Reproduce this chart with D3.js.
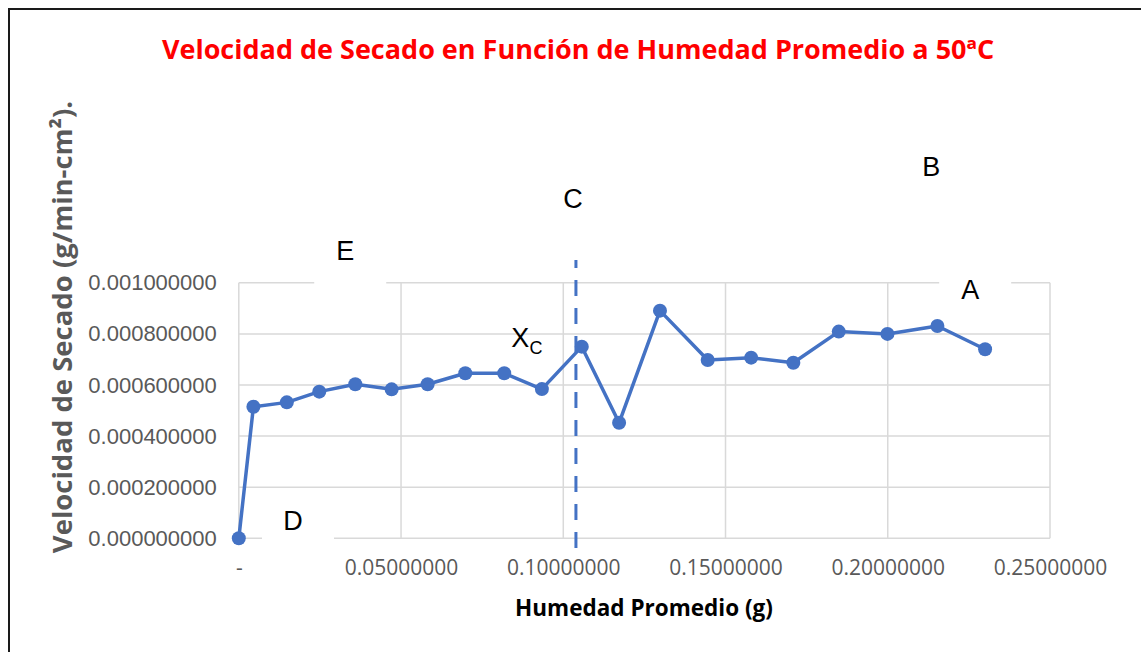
<!DOCTYPE html>
<html>
<head>
<meta charset="utf-8">
<script src="https://cdn.jsdelivr.net/npm/d3@7"></script>
<style>
  body { margin: 0; background: #fff; }
</style>
</head>
<body>
<div id="chart"></div>
<script>
// humedad promedio (g) vs velocidad de secado (g/min-cm2)
var humedad = [0, 0.0045, 0.0148, 0.0248, 0.0359, 0.0471, 0.0582, 0.0698, 0.0818, 0.0934,
               0.1057, 0.1172, 0.1298, 0.1445, 0.1579, 0.1709, 0.1849, 0.1999, 0.2153, 0.2300];
var velocidad = [0, 0.000515, 0.000532, 0.000574, 0.000603, 0.000583, 0.000603, 0.000646, 0.000646, 0.000584,
                 0.000750, 0.000452, 0.000891, 0.000698, 0.000707, 0.000687, 0.000809, 0.000800, 0.000831, 0.000740];
var xTicks = [0, 0.05, 0.10, 0.15, 0.20, 0.25];
var yTicks = [0, 0.0002, 0.0004, 0.0006, 0.0008, 0.0010];

// letters written on the chart (data units)
var letras = ["B", "C", "E", "A", "D"];
var letrasX = [0.2134, 0.1030, 0.0328, 0.2254, 0.0167];
var letrasY = [0.001453, 0.001328, 0.001124, 0.000971, 0.000066];
var letrasFondo = [false, false, true, true, true];
var xcPos = [0.0840, 0.000788];
var xCritico = 0.1039;

var W = 1141, H = 652;
var svg = d3.select("#chart").append("svg")
    .attr("width", W)
    .attr("height", H);

svg.append("rect")
    .attr("x", 9).attr("y", 9)
    .attr("width", W + 20).attr("height", H + 20)
    .attr("fill", "#fff")
    .attr("stroke", "#1a1a1a")
    .attr("stroke-width", 2);

var x = d3.scaleLinear().domain([0, 0.25]).range([238.8, 1050]);
var y = d3.scaleLinear().domain([0, 0.001]).range([538.3, 282.8]);

// gridlines
svg.append("g").selectAll("line.h")
  .data(yTicks)
  .enter().append("line")
    .attr("x1", x(0)).attr("x2", x(0.25))
    .attr("y1", function(d) { return y(d); })
    .attr("y2", function(d) { return y(d); })
    .attr("stroke", "#d9d9d9")
    .attr("stroke-width", 1.5);

svg.append("g").selectAll("line.v")
  .data(xTicks)
  .enter().append("line")
    .attr("x1", function(d) { return x(d); })
    .attr("x2", function(d) { return x(d); })
    .attr("y1", y(0)).attr("y2", y(0.001))
    .attr("stroke", "#d9d9d9")
    .attr("stroke-width", 1.5);

// axes (labels only)
var yAxis = svg.append("g")
    .attr("transform", "translate(" + x(0) + ",0)")
    .call(d3.axisLeft(y).tickValues(yTicks).tickFormat(d3.format(".9f")).tickSize(0).tickPadding(22));
yAxis.select(".domain").remove();
yAxis.selectAll("text")
    .attr("fill", "#595959")
    .style("font-family", "'Liberation Sans', Arial, sans-serif")
    .style("font-size", "22px");

var xAxis = svg.append("g")
    .attr("transform", "translate(0," + y(0) + ")")
    .call(d3.axisBottom(x).tickValues(xTicks)
      .tickFormat(function(d) { return d === 0 ? "-" : d3.format(".8f")(d); })
      .tickSize(0).tickPadding(22));
xAxis.select(".domain").remove();
xAxis.selectAll("text")
    .attr("fill", "#595959")
    .style("font-family", "'Open Sans', sans-serif")
    .style("font-size", "21px");

// white boxes behind some letters
svg.append("g").selectAll("rect")
  .data(letras.filter(function(d, i) { return letrasFondo[i]; }))
  .enter().append("rect")
    .attr("x", function(d) { var i = letras.indexOf(d); return x(letrasX[i]) - 31; })
    .attr("y", function(d) { var i = letras.indexOf(d); return y(letrasY[i]) - 22; })
    .attr("width", 72)
    .attr("height", 62)
    .attr("fill", "#fff");

// critical moisture line
svg.append("line")
    .attr("x1", x(xCritico)).attr("x2", x(xCritico))
    .attr("y1", y(-0.000038)).attr("y2", y(0.001089))
    .attr("stroke", "#4472c4")
    .attr("stroke-width", 3)
    .attr("stroke-dasharray", "16,12");

// series
var line = d3.line()
    .x(function(d, i) { return x(humedad[i]); })
    .y(function(d) { return y(d); });

svg.append("path")
    .datum(velocidad)
    .attr("d", line)
    .attr("fill", "none")
    .attr("stroke", "#4472c4")
    .attr("stroke-width", 3.5)
    .attr("stroke-linejoin", "round");

svg.append("g").selectAll("circle")
  .data(velocidad)
  .enter().append("circle")
    .attr("cx", function(d, i) { return x(humedad[i]); })
    .attr("cy", function(d) { return y(d); })
    .attr("r", 7)
    .attr("fill", "#4472c4");

// letters
svg.append("g").selectAll("text")
  .data(letras)
  .enter().append("text")
    .attr("x", function(d, i) { return x(letrasX[i]); })
    .attr("y", function(d, i) { return y(letrasY[i]); })
    .attr("text-anchor", "middle")
    .attr("dominant-baseline", "central")
    .style("font-family", "'Liberation Sans', Arial, sans-serif")
    .style("font-size", "27px")
    .attr("fill", "#000")
    .text(function(d) { return d; });

var xc = svg.append("text")
    .attr("x", x(xcPos[0]))
    .attr("y", y(xcPos[1]) + 10)
    .style("font-family", "'Liberation Sans', Arial, sans-serif")
    .style("font-size", "27px")
    .attr("fill", "#000");
xc.append("tspan").text("X");
xc.append("tspan").attr("dy", 7).style("font-size", "18px").text("C");

// titles
svg.append("text")
    .attr("x", 578).attr("y", 59)
    .attr("text-anchor", "middle")
    .style("font-family", "'Open Sans', sans-serif")
    .style("font-weight", "bold")
    .style("font-size", "27px")
    .attr("fill", "#ff0000")
    .text("Velocidad de Secado en Función de Humedad Promedio a 50ªC");

svg.append("text")
    .attr("x", 644).attr("y", 616)
    .attr("text-anchor", "middle")
    .style("font-family", "'Open Sans', sans-serif")
    .style("font-weight", "bold")
    .style("font-size", "22.5px")
    .attr("fill", "#000")
    .text("Humedad Promedio (g)");

svg.append("text")
    .attr("transform", "translate(72,327) rotate(-90)")
    .attr("text-anchor", "middle")
    .style("font-family", "'Open Sans', sans-serif")
    .style("font-weight", "bold")
    .style("font-size", "27.5px")
    .attr("fill", "#595959")
    .text("Velocidad de Secado (g/min-cm²).");
</script>
</body>
</html>
